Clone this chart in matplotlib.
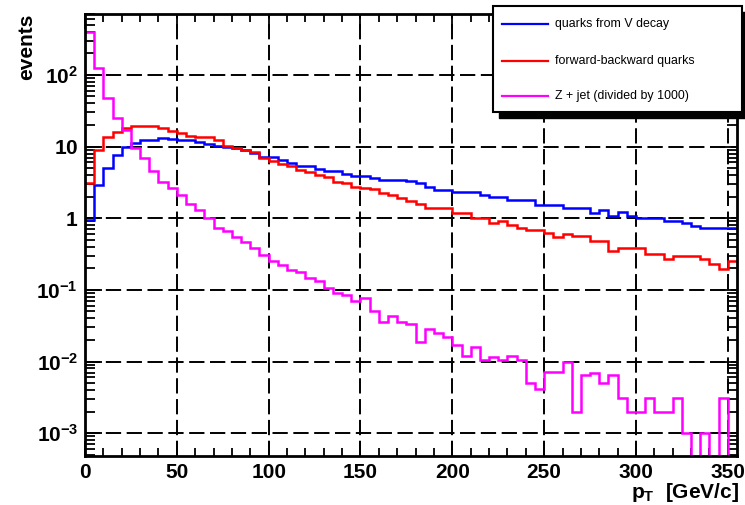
import numpy as np
import matplotlib
matplotlib.use("Agg")
import matplotlib.pyplot as plt
from matplotlib.patches import Rectangle
from matplotlib.lines import Line2D
from matplotlib.ticker import FixedLocator, FixedFormatter, MultipleLocator, LogLocator, NullFormatter

plt.rcParams['font.family'] = ['Liberation Sans', 'DejaVu Sans']
plt.rcParams['mathtext.fontset'] = 'custom'
plt.rcParams['mathtext.rm'] = 'Liberation Sans'
plt.rcParams['mathtext.bf'] = 'Liberation Sans:bold'
plt.rcParams['mathtext.it'] = 'Liberation Sans:italic'
plt.rcParams['lines.scale_dashes'] = False

# ---------------- data ----------------
bin_width = 5
x_min, x_max = 0, 355
y_min, y_max = 4.8e-4, 708

series_names = ["quarks from V decay", "forward-backward quarks", "Z + jet (divided by 1000)"]
series_colors = ["#0000ff", "#ff0000", "#ff00ff"]

quarks_v_decay = [0.95, 2.9, 5.0, 7.6, 10.0, 11.3, 12.2, 12.2, 13.3, 12.8,
                  12.4, 12.4, 11.5, 10.8, 10.3, 10.0, 9.4, 8.9, 8.2, 7.2,
                  7.2, 6.5, 5.85, 5.3, 5.3, 4.9, 4.5, 4.5, 4.1, 3.9,
                  3.9, 3.6, 3.4, 3.4, 3.4, 3.3, 3.1, 2.75, 2.5, 2.5,
                  2.3, 2.3, 2.3, 2.1, 1.95, 1.95, 1.8, 1.8, 1.8, 1.53,
                  1.53, 1.53, 1.38, 1.38, 1.38, 1.2, 1.3, 1.09, 1.21, 1.09,
                  1.0, 1.0, 1.0, 0.92, 0.92, 0.85, 0.77, 0.73, 0.73, 0.73, 0.73]

fwd_bwd_quarks = [3.15, 9.0, 13.8, 16.2, 18.4, 19.6, 19.6, 19.6, 18.0, 16.5,
                  15.3, 14.2, 13.8, 13.8, 12.4, 10.2, 9.5, 8.9, 8.3, 7.0,
                  6.2, 5.66, 5.3, 4.7, 4.4, 4.0, 3.7, 3.25, 3.07, 2.77,
                  2.62, 2.54, 2.23, 2.1, 1.9, 1.74, 1.57, 1.4, 1.4, 1.4,
                  1.17, 1.17, 1.02, 1.02, 0.85, 0.92, 0.8, 0.74, 0.69, 0.69,
                  0.62, 0.555, 0.6, 0.57, 0.57, 0.48, 0.48, 0.35, 0.39, 0.39,
                  0.39, 0.315, 0.315, 0.27, 0.30, 0.30, 0.30, 0.27, 0.23, 0.196, 0.25]

z_plus_jet = [400, 123, 47, 25, 17, 9.5, 6.9, 4.5, 3.25, 2.6,
              2.1, 1.6, 1.3, 1.0, 0.74, 0.67, 0.555, 0.47, 0.39, 0.31,
              0.25, 0.22, 0.19, 0.18, 0.146, 0.131, 0.106, 0.090, 0.085, 0.069,
              0.077, 0.050, 0.036, 0.043, 0.036, 0.033, 0.019, 0.028, 0.025, 0.022,
              0.017, 0.012, 0.0158, 0.0106, 0.0114, 0.0106, 0.012, 0.0106, 0.005, 0.0042,
              0.0071, 0.0071, 0.0098, 0.002, 0.0064, 0.0069, 0.005, 0.0064, 0.0031, 0.002,
              0.002, 0.0031, 0.002, 0.002, 0.0031, 0.001, 0, 0.001, 0, 0.0031, 0]

x_ticks = [0, 50, 100, 150, 200, 250, 300, 350]
x_tick_labels = ["0", "50", "100", "150", "200", "250", "300", "350"]
y_ticks = [1e-3, 1e-2, 1e-1, 1, 10, 100]
y_tick_labels = [r"$\mathbf{10^{-3}}$", r"$\mathbf{10^{-2}}$", r"$\mathbf{10^{-1}}$",
                 r"$\mathbf{1}$", r"$\mathbf{10}$", r"$\mathbf{10^{2}}$"]
x_label = r"$\mathbf{p_{T}}$  [GeV/c]"
y_label = "events"

# ---------------- figure ----------------
W, H = 745, 505
fig = plt.figure(figsize=(W / 100, H / 100), dpi=100)
ax = fig.add_axes([85 / W, 1 - 456 / H, 652 / W, 442 / H])
ax.set_yscale('log')
ax.set_xlim(x_min, x_max)
ax.set_ylim(y_min, y_max)

edges = np.arange(x_min, x_max + bin_width, bin_width)
floor = y_min * 1e-3
for vals, col in zip([quarks_v_decay, fwd_bwd_quarks, z_plus_jet], series_colors):
    v = np.asarray(vals, dtype=float)
    v = np.where(v > 0, v, floor)
    ax.stairs(v, edges, baseline=None, color=col, lw=1.8, zorder=3)

# grid
ax.grid(True, which='major', color='black', lw=1.4, linestyle=(0, (11, 4)), zorder=1)
ax.set_axisbelow(True)

# ticks
ax.xaxis.set_major_locator(FixedLocator(x_ticks))
ax.xaxis.set_major_formatter(FixedFormatter(x_tick_labels))
ax.xaxis.set_minor_locator(MultipleLocator(10))
ax.yaxis.set_major_locator(FixedLocator(y_ticks))
ax.yaxis.set_major_formatter(FixedFormatter(y_tick_labels))
ax.yaxis.set_minor_locator(LogLocator(base=10, subs=np.arange(2, 10), numticks=20))
ax.yaxis.set_minor_formatter(NullFormatter())

ax.tick_params(which='both', direction='in', top=True, right=True, colors='black')
ax.tick_params(axis='x', which='major', length=11, width=1.3, labelsize=15, pad=5)
ax.tick_params(axis='x', which='minor', length=6, width=1.3)
ax.tick_params(axis='y', which='major', length=12, width=1.3, labelsize=15, pad=5)
ax.tick_params(axis='y', which='minor', length=7.5, width=1.3)
for lab in ax.get_xticklabels():
    lab.set_fontweight('bold')

for sp in ax.spines.values():
    sp.set_linewidth(2.0)
    sp.set_zorder(5)

# axis titles
fig.text(739 / W, 1 - 492 / H, x_label, ha='right', va='center', fontsize=15, fontweight='bold')
fig.text(27 / W, 1 - 14 / H, y_label, ha='center', va='top', rotation=90, fontsize=15, fontweight='bold')

# legend (ROOT style box with shadow)
lx0, ly0, lx1, ly1 = 493, 6, 742, 112
shadow = Rectangle(((lx0 + 6) / W, 1 - (ly1 + 6) / H), (lx1 - lx0) / W, (ly1 - ly0) / H,
                   transform=fig.transFigure, facecolor='black', edgecolor='black', zorder=10)
box = Rectangle((lx0 / W, 1 - ly1 / H), (lx1 - lx0) / W, (ly1 - ly0) / H,
                transform=fig.transFigure, facecolor='white', edgecolor='black', lw=1.5, zorder=11)
fig.add_artist(shadow)
fig.add_artist(box)
row_y = [24, 61, 96]
for name, col, ry in zip(series_names, series_colors, row_y):
    fig.add_artist(Line2D([502 / W, 548 / W], [1 - ry / H, 1 - ry / H], transform=fig.transFigure,
                          color=col, lw=1.6, zorder=12))
    fig.text(555 / W, 1 - ry / H, name, ha='left', va='center', fontsize=8.9, zorder=12)

fig.savefig("out.png", dpi=100)
